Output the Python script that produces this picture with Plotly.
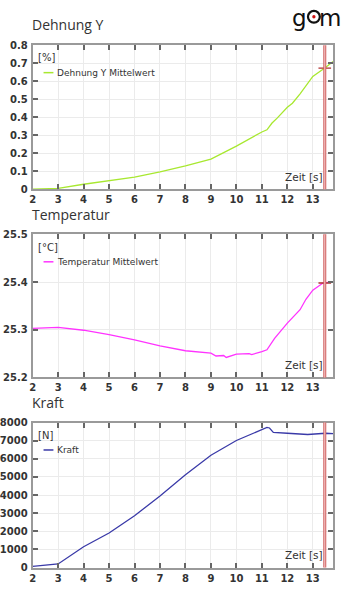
import plotly.graph_objects as go

# ---- data ----
dehnung_t = [2, 3, 4, 5, 6, 7, 8, 9, 10, 11, 11.2, 11.4, 11.6, 12, 12.2, 12.5, 13, 13.47, 13.8]
dehnung_v = [0.0, 0.005, 0.028, 0.047, 0.068, 0.097, 0.13, 0.168, 0.24, 0.318, 0.33, 0.368, 0.395, 0.455, 0.478, 0.53, 0.627, 0.673, 0.709]

temp_t = [2, 3, 4, 5, 6, 7, 8, 9, 9.2, 9.5, 9.6, 10, 10.5, 10.6, 11, 11.2, 11.5, 12, 12.5, 12.73, 13, 13.4, 13.8]
temp_v = [25.303, 25.305, 25.299, 25.290, 25.279, 25.266, 25.256, 25.251, 25.245, 25.246, 25.242, 25.249, 25.250,
          25.248, 25.254, 25.258, 25.282, 25.314, 25.342, 25.364, 25.383, 25.398, 25.401]

kraft_t = [2, 3, 4, 5, 6, 7, 8, 9, 10, 11, 11.2, 11.3, 11.45, 12, 12.8, 13.5, 13.8]
kraft_v = [70, 200, 1150, 1910, 2860, 3950, 5120, 6200, 7010, 7600, 7730, 7700, 7460, 7410, 7340, 7410, 7390]

cursor_t = 13.47
x_ticks = [2, 3, 4, 5, 6, 7, 8, 9, 10, 11, 12, 13]
x_range = [2, 13.8]

panels = [
    dict(title="Dehnung Y", unit="[%]", name="Dehnung Y Mittelwert", t=dehnung_t, v=dehnung_v,
         color="#a8e830", yrange=[0, 0.8], ytick=[0, 0.1, 0.2, 0.3, 0.4, 0.5, 0.6, 0.7, 0.8],
         ytext=["0", "0.1", "0.2", "0.3", "0.4", "0.5", "0.6", "0.7", "0.8"], cross=0.673),
    dict(title="Temperatur", unit="[°C]", name="Temperatur Mittelwert", t=temp_t, v=temp_v,
         color="#ff33ff", yrange=[25.2, 25.5], ytick=[25.2, 25.3, 25.4, 25.5],
         ytext=["25.2", "25.3", "25.4", "25.5"], cross=25.398),
    dict(title="Kraft", unit="[N]", name="Kraft", t=kraft_t, v=kraft_v,
         color="#3a3aa8", yrange=[0, 8000], ytick=[0, 1000, 2000, 3000, 4000, 5000, 6000, 7000, 8000],
         ytext=["0", "1000", "2000", "3000", "4000", "5000", "6000", "7000", "8000"], cross=None),
]

W, H = 348, 603
pix = [(40, 187), (233, 379), (425, 573)]
x_left, x_right = 29, 333

fig = go.Figure()
font = "DejaVu Sans"
frame = "#9a9a9a"
shapes = []
annotations = []

for i, p in enumerate(panels):
    n = "" if i == 0 else str(i + 1)
    top, bot = pix[i]
    dom = [1 - bot / H, 1 - top / H]
    fig.add_trace(go.Scatter(x=p["t"], y=p["v"], mode="lines", name=p["name"],
                             line=dict(color=p["color"], width=1.3),
                             xaxis="x" + n, yaxis="y" + n, showlegend=False))
    axcommon = dict(showline=True, linecolor=frame, linewidth=2, mirror="ticks",
                    ticks="inside", ticklen=5, tickwidth=1.5, tickcolor="#666",
                    showgrid=True, gridcolor="#ebebeb", gridwidth=1, zeroline=False,
                    tickfont=dict(family=font, size=10, color="#333", weight="bold"))
    fig.layout["xaxis" + n] = dict(axcommon, domain=[x_left / W, x_right / W], range=x_range,
                                   tickvals=x_ticks, anchor="y" + n, ticklabelstandoff=0)
    fig.layout["yaxis" + n] = dict(axcommon, domain=dom, range=p["yrange"], tickvals=p["ytick"],
                                   ticktext=p["ytext"], anchor="x" + n, ticklabelstandoff=1)
    # cursor line (red edges, light centre)
    yref_dom = ("y" + n + " domain") if n else "y domain"
    for col, w in (("#d06262", 3), ("#f6cccc", 1)):
        shapes.append(dict(type="line", xref="x" + n, yref=yref_dom,
                           x0=cursor_t, x1=cursor_t, y0=0, y1=1, line=dict(color=col, width=w)))
    if p["cross"] is not None:
        fig.add_trace(go.Scatter(x=[cursor_t], y=[p["cross"]], mode="markers",
                                 marker=dict(symbol="line-ew", size=9, line=dict(color="#b03030", width=1.3)),
                                 xaxis="x" + n, yaxis="y" + n, showlegend=False))
    # title
    annotations.append(dict(text=p["title"], xref="paper", yref="paper", x=(x_left - 3) / W,
                            y=1 - (top - 9) / H, xanchor="left", yanchor="bottom", showarrow=False,
                            font=dict(family="Open Sans", size=14, color="#333")))
    # unit label
    annotations.append(dict(text=p["unit"], xref="paper", yref="paper", x=(x_left + 3) / W,
                            y=1 - (top + 13) / H, xanchor="left", yanchor="middle", showarrow=False,
                            font=dict(family=font, size=10, color="#333")))
    # legend entry
    ly = top + 28
    shapes.append(dict(type="line", xref="paper", yref="paper", x0=40 / W, x1=50 / W,
                       y0=1 - ly / H, y1=1 - ly / H, line=dict(color=p["color"], width=1.5)))
    annotations.append(dict(text=p["name"], xref="paper", yref="paper", x=52 / W,
                            y=1 - ly / H, xanchor="left", yanchor="middle", showarrow=False,
                            font=dict(family=font, size=9, color="#333")))
    # axis name
    annotations.append(dict(text="Zeit [s]", xref="paper", yref="paper", x=325 / W,
                            y=1 - (bot - 13) / H, xanchor="right", yanchor="middle", showarrow=False,
                            font=dict(family=font, size=10.5, color="#333")))

# gom logo: "g", ring with red dot, "m"
annotations.append(dict(text="g", xref="paper", yref="paper", x=309 / W, y=1 - 12 / H,
                        xanchor="right", yanchor="middle", showarrow=False,
                        font=dict(family="DejaVu Sans", size=23, color="#111")))
annotations.append(dict(text="m", xref="paper", yref="paper", x=317 / W, y=1 - 12 / H,
                        xanchor="left", yanchor="middle", showarrow=False,
                        font=dict(family="DejaVu Sans", size=23, color="#111")))
shapes.append(dict(type="circle", xref="paper", yref="paper", x0=307.5 / W, x1=319.5 / W,
                   y0=1 - 17 / H, y1=1 - 5 / H, fillcolor="white", line=dict(color="#111", width=2.2)))
shapes.append(dict(type="circle", xref="paper", yref="paper", x0=311.8 / W, x1=315.2 / W,
                   y0=1 - 12.7 / H, y1=1 - 9.3 / H, fillcolor="#d01010", line=dict(width=0)))

fig.update_layout(width=W, height=H, margin=dict(l=0, r=0, t=0, b=0),
                  paper_bgcolor="white", plot_bgcolor="white",
                  shapes=shapes, annotations=annotations, showlegend=False)
fig.write_html("out.html")
